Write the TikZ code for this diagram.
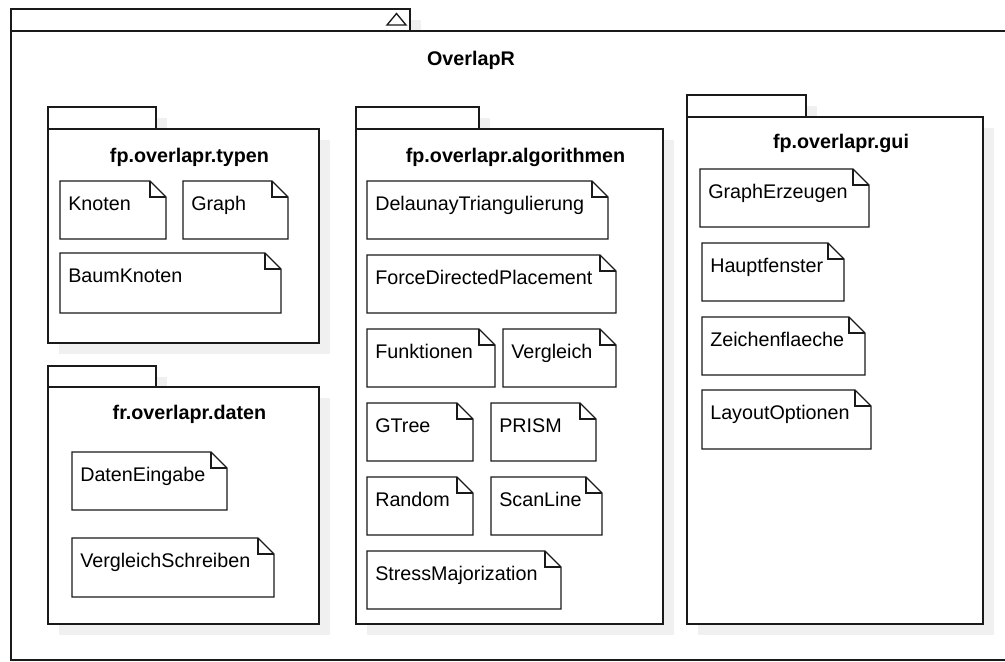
\documentclass[tikz,border=0pt]{standalone}
\usepackage{fontspec}
\setmainfont{Liberation Sans}
\usetikzlibrary{calc}
\definecolor{shadowc}{HTML}{F0F0F0}
\definecolor{linec}{HTML}{1A1A1A}
\newcommand{\nfont}{\fontsize{14.8}{17}\selectfont}
\newcommand{\bfontx}{\fontsize{14.8}{17}\selectfont\bfseries}
\tikzset{
  ln/.style={draw=linec, line width=1pt},
  shd/.style={fill=shadowc, draw=none},
  notetext/.style={anchor=base west, font=\nfont, inner sep=0pt},
  pkgtitle/.style={anchor=base, font=\bfontx, inner sep=0pt}
}
% package: name, left, tabtop, tabright, bodytop, right, bottom, title, title baseline
\newcommand{\pkgbox}[9]{%
  \fill[shd] (#2+11,#3+11) rectangle (#4+11,#5+11);
  \fill[shd] (#2+11,#5+11) rectangle (#6+11,#7+11);
  \filldraw[ln, fill=white] (#2,#3) rectangle (#4,#5);
  \filldraw[ln, fill=white] (#2,#5) rectangle (#6,#7);
  \node[pkgtitle] (#1) at ($(#2,#9)!.5!(#6,#9)+(6,0)$) {#8};
}
% note: name, x1, y1, x2, y2, text
\newcommand{\notebox}[6]{%
  \filldraw[ln, fill=white, line join=miter] (#2,#3) -- (#4-16,#3) -- (#4,#3+16) -- (#4,#5) -- (#2,#5) -- cycle;
  \draw[ln] (#4-16,#3) -- (#4-16,#3+16) -- (#4,#3+16);
  \node[notetext] (#1) at (#2+8,#3+29) {#6};
}
\begin{document}
\begin{tikzpicture}[x=0.75pt,y=-0.75pt]
\useasboundingbox (0,0) rectangle (1005,661);
\clip (0,0) rectangle (1005,661);
% outer package
\fill[shd] (22,20) rectangle (421,42);
\filldraw[ln, fill=white] (11,9) rectangle (410,31);
\filldraw[ln, fill=white] (11,31) rectangle (1040,660);
\draw[ln, line join=miter] (387,25) -- (396.5,13.5) -- (406,25) -- cycle;
\node[pkgtitle] (overlapr) at (471,65) {OverlapR};

% packages
\pkgbox{typen}{48}{107}{156}{129}{319}{343}{fp.overlapr.typen}{162}
\pkgbox{daten}{48}{366}{156}{387}{319}{624}{fr.overlapr.daten}{419}
\pkgbox{algo}{356}{107}{479}{129}{663}{624}{fp.overlapr.algorithmen}{162}
\pkgbox{gui}{687}{95}{806}{117}{983}{624}{fp.overlapr.gui}{148}

% typen
\notebox{knoten}{60}{181}{166}{239}{Knoten}
\notebox{graph}{183}{181}{288}{239}{Graph}
\notebox{baumknoten}{60}{253}{281}{313}{BaumKnoten}

% daten
\notebox{dateneingabe}{72}{452}{227}{510}{DatenEingabe}
\notebox{vergleichschreiben}{72}{538}{274}{597}{VergleichSchreiben}

% algorithmen
\notebox{delaunay}{367}{181}{608}{239}{DelaunayTriangulierung}
\notebox{force}{367}{255}{616}{313}{ForceDirectedPlacement}
\notebox{funktionen}{367}{329}{495}{387}{Funktionen}
\notebox{vergleich}{503}{329}{616}{387}{Vergleich}
\notebox{gtree}{367}{403}{473}{461}{GTree}
\notebox{prism}{491}{403}{596}{461}{PRISM}
\notebox{random}{367}{477}{473}{535}{Random}
\notebox{scanline}{491}{477}{602}{535}{ScanLine}
\notebox{stress}{367}{551}{561}{609}{StressMajorization}

% gui
\notebox{grapherzeugen}{700}{169}{869}{227}{GraphErzeugen}
\notebox{hauptfenster}{702}{243}{844}{301}{Hauptfenster}
\notebox{zeichenflaeche}{702}{317}{865}{375}{Zeichenflaeche}
\notebox{layoutoptionen}{702}{390}{871}{449}{LayoutOptionen}
\end{tikzpicture}
\end{document}
